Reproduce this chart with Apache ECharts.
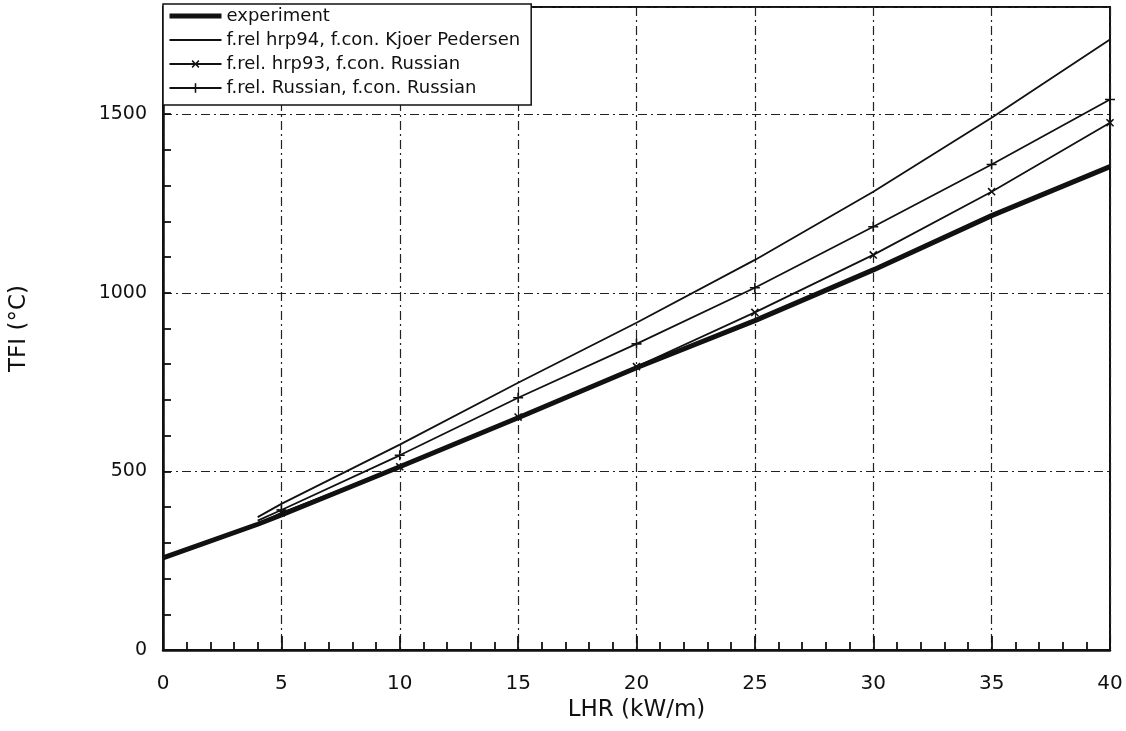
<!DOCTYPE html>
<html>
<head>
<meta charset="utf-8">
<title>TFI vs LHR</title>
<script src="https://cdn.jsdelivr.net/npm/echarts@6/dist/echarts.min.js"></script>
<style>
  html, body { margin: 0; padding: 0; background: #fff; }
  #chart { width: 1126px; height: 731px; }
</style>
</head>
<body>
<div id="chart"></div>
<script>
// LHR (kW/m) sample points
const lhr = [0, 4, 5, 10, 15, 20, 25, 30, 35, 40];
// TFI (°C) per series
const experiment = [258, 352, 378, 513, 650, 790, 922, 1064, 1216, 1353];
const kjoerPedersen = [null, 372, 409, 575, 748, 916, 1092, 1283, 1490, 1709];
const hrp93Russian = [null, 352, 384, 513, 652, 793, 945, 1106, 1283, 1476];
const russianRussian = [null, 362, 392, 545, 706, 857, 1014, 1185, 1359, 1541];

const seriesNames = [
  'experiment',
  'f.rel hrp94, f.con. Kjoer Pedersen',
  'f.rel. hrp93, f.con. Russian',
  'f.rel. Russian, f.con. Russian'
];

const FONT = 'DejaVu Sans';
const INK = '#111';
const PLUS = 'path://M4.2,0H5.8V4.2H10V5.8H5.8V10H4.2V5.8H0V4.2H4.2Z';

// pair x with y, hide marker on the starting point of the model curves
const pairs = (ys, marked) => lhr
  .map((x, i) => ys[i] == null ? null : (marked && x % 5 !== 0
    ? { value: [x, ys[i]], symbol: 'none' }
    : [x, ys[i]]))
  .filter(d => d !== null);

const dashDot = { color: '#222', width: 1.2, type: [9, 4, 2, 4] };

const chart = echarts.init(document.getElementById('chart'));
chart.setOption({
  animation: false,
  backgroundColor: '#fff',
  grid: {
    left: 163, right: 16, top: 7, bottom: 81,
    show: true, borderColor: INK, borderWidth: 2
  },
  legend: {
    left: 163, top: 4,
    orient: 'vertical',
    itemWidth: 52, itemHeight: 12, itemGap: 6,
    padding: [3, 11, 8, 4],
    backgroundColor: '#fff',
    borderColor: INK, borderWidth: 1.5,
    textStyle: { fontFamily: FONT, fontSize: 18, color: INK },
    data: [
      { name: seriesNames[0], itemStyle: { opacity: 0 }, lineStyle: { width: 5 } },
      { name: seriesNames[1], itemStyle: { opacity: 0 }, lineStyle: { width: 1.8 } },
      { name: seriesNames[2], lineStyle: { width: 1.8 } },
      { name: seriesNames[3], lineStyle: { width: 1.8 } }
    ]
  },
  xAxis: {
    type: 'value',
    min: 0, max: 40, interval: 5,
    name: 'LHR (kW/m)',
    nameLocation: 'middle', nameGap: 46,
    nameTextStyle: { fontFamily: FONT, fontSize: 23, color: INK },
    axisLine: { lineStyle: { color: INK, width: 2.5 } },
    axisTick: { inside: true, length: 14, lineStyle: { color: INK, width: 1.8 } },
    minorTick: { show: true, splitNumber: 5, length: 8, lineStyle: { color: INK, width: 1.8 } },
    axisLabel: { fontFamily: FONT, fontSize: 20, color: INK, margin: 24 },
    splitLine: { show: true, lineStyle: dashDot }
  },
  yAxis: [
    {
      type: 'value',
      min: 0, max: 1800, interval: 100,
      name: 'TFI (°C)',
      nameLocation: 'middle', nameGap: 132,
      nameTextStyle: { fontFamily: FONT, fontSize: 23, color: INK },
      axisLine: { show: true, lineStyle: { color: INK, width: 2.5 } },
      axisTick: { inside: true, length: 8, lineStyle: { color: INK, width: 1.8 } },
      axisLabel: {
        fontFamily: FONT, fontSize: 19, color: INK, margin: 16,
        formatter: v => (v % 500 === 0 ? String(v) : '')
      },
      splitLine: { show: false }
    },
    {
      type: 'value',
      min: 0, max: 1800, interval: 500,
      axisLine: { show: false },
      axisTick: { show: false },
      axisLabel: { show: false },
      splitLine: { show: true, lineStyle: dashDot }
    }
  ],
  series: [
    {
      name: seriesNames[0],
      type: 'line',
      data: pairs(experiment, false),
      symbol: 'none',
      lineStyle: { color: INK, width: 5 },
      itemStyle: { color: INK },
      z: 5
    },
    {
      name: seriesNames[1],
      type: 'line',
      data: pairs(kjoerPedersen, false),
      symbol: 'none',
      lineStyle: { color: INK, width: 1.8 },
      itemStyle: { color: INK }
    },
    {
      name: seriesNames[2],
      type: 'line',
      data: pairs(hrp93Russian, true),
      symbol: PLUS,
      symbolRotate: 45,
      symbolSize: 10,
      lineStyle: { color: INK, width: 1.8 },
      itemStyle: { color: INK }
    },
    {
      name: seriesNames[3],
      type: 'line',
      data: pairs(russianRussian, true),
      symbol: PLUS,
      symbolSize: 10,
      lineStyle: { color: INK, width: 1.8 },
      itemStyle: { color: INK }
    }
  ]
});
</script>
</body>
</html>
